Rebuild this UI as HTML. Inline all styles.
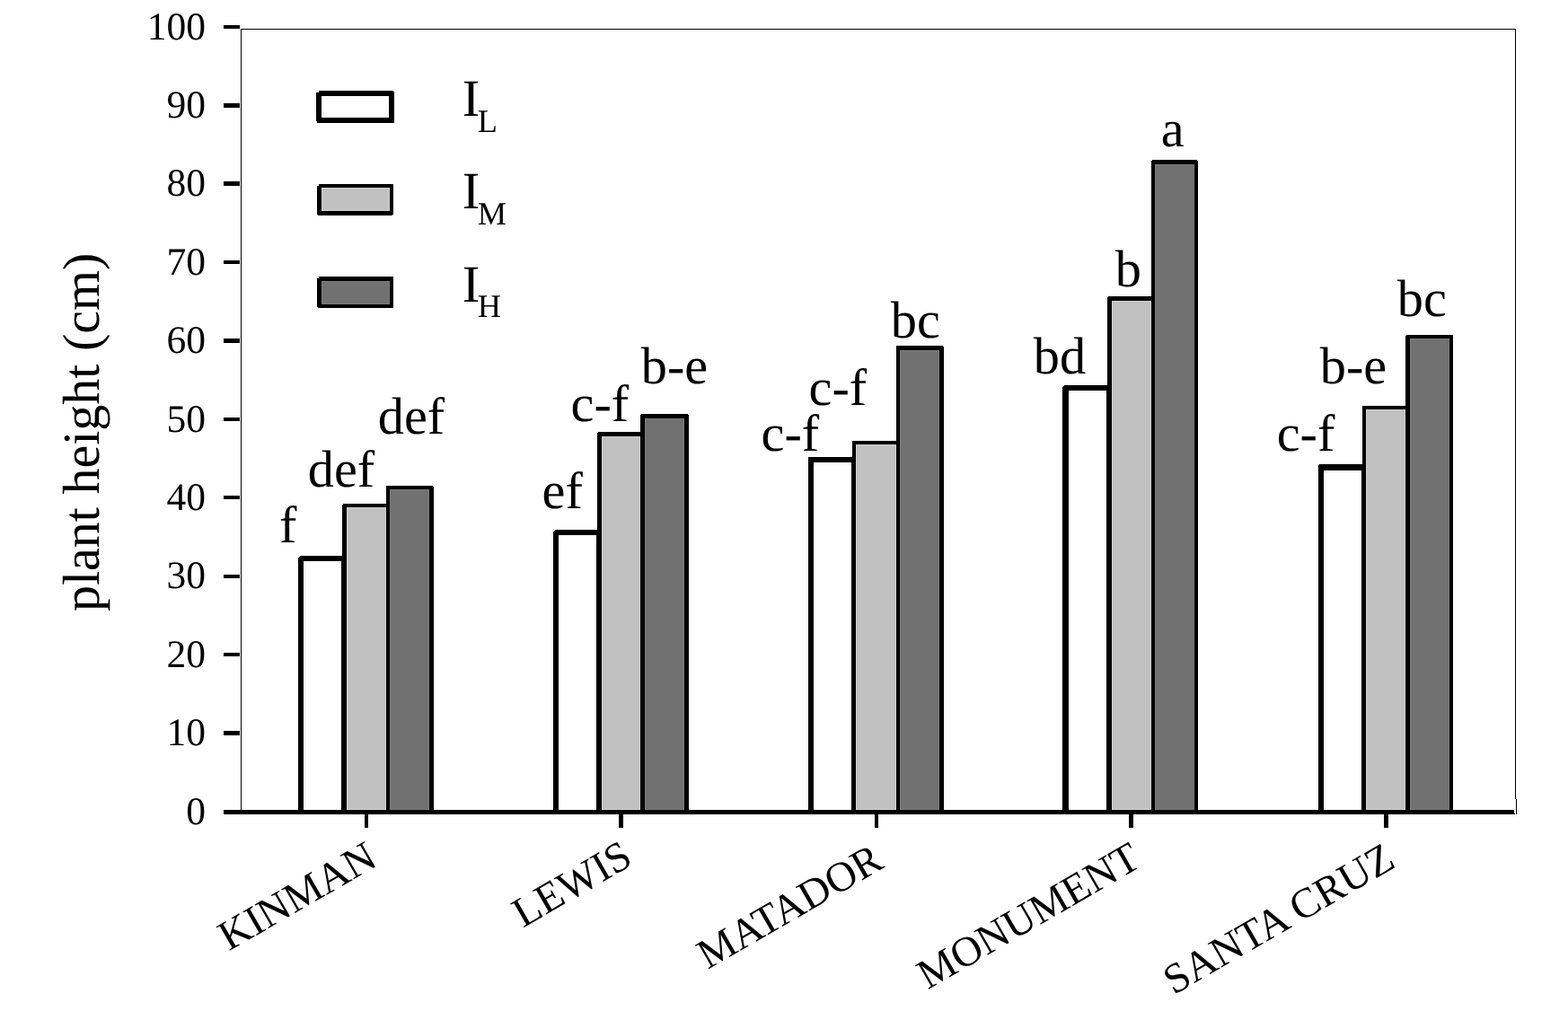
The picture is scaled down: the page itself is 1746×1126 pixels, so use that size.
<!DOCTYPE html>
<html lang="en">
<head>
<meta charset="utf-8">
<title>Plant height by cultivar and irrigation level</title>
<style>
html,body{margin:0;padding:0;background:#fff;}
body{width:1746px;height:1126px;overflow:hidden;}
svg{display:block;}
text{white-space:pre;text-rendering:geometricPrecision;}
</style>
</head>
<body>
<svg width="1746" height="1126" viewBox="0 0 1746 1126" role="img" aria-label="Bar chart of plant height (cm) for five cultivars under three irrigation levels">
<rect x="0" y="0" width="1746" height="1126" fill="#fff"/>
<g shape-rendering="crispEdges">
<rect x="268" y="32" width="1420" height="1" fill="#000"/>
<rect x="268" y="32" width="1" height="870" fill="#000"/>
<rect x="1687" y="32" width="1" height="858" fill="#000"/>
<rect x="1688" y="890" width="1" height="17" fill="#000"/>
<rect x="332" y="619" width="54" height="283" fill="#000"/>
<rect x="338" y="625" width="42" height="277" fill="#fff"/>
<rect x="381" y="561" width="53" height="341" fill="#000"/>
<rect x="386" y="565" width="44" height="337" fill="#d0d0d0"/>
<rect x="387" y="566" width="42" height="335" fill="#c1c1c1"/>
<rect x="430" y="541" width="53" height="361" fill="#000"/>
<rect x="434" y="545" width="44" height="357" fill="#7b7b7b"/>
<rect x="435" y="546" width="42" height="355" fill="#717171"/>
<rect x="332" y="619" width="2" height="1" fill="#fff"/>
<rect x="332" y="620" width="1" height="1" fill="#fff"/>
<rect x="381" y="561" width="1" height="1" fill="#fff"/>
<rect x="482" y="541" width="1" height="1" fill="#fff"/>
<rect x="616" y="590" width="54" height="312" fill="#000"/>
<rect x="622" y="596" width="42" height="306" fill="#fff"/>
<rect x="665" y="481" width="53" height="421" fill="#000"/>
<rect x="670" y="486" width="43" height="416" fill="#d0d0d0"/>
<rect x="671" y="487" width="41" height="414" fill="#c1c1c1"/>
<rect x="713" y="461" width="54" height="441" fill="#000"/>
<rect x="718" y="466" width="44" height="436" fill="#7b7b7b"/>
<rect x="719" y="467" width="42" height="434" fill="#717171"/>
<rect x="616" y="590" width="2" height="1" fill="#fff"/>
<rect x="616" y="591" width="1" height="1" fill="#fff"/>
<rect x="665" y="481" width="1" height="1" fill="#fff"/>
<rect x="713" y="461" width="1" height="1" fill="#fff"/>
<rect x="766" y="461" width="1" height="1" fill="#fff"/>
<rect x="900" y="509" width="53" height="393" fill="#000"/>
<rect x="906" y="515" width="42" height="387" fill="#fff"/>
<rect x="949" y="491" width="53" height="411" fill="#000"/>
<rect x="953" y="495" width="45" height="407" fill="#d0d0d0"/>
<rect x="954" y="496" width="43" height="405" fill="#c1c1c1"/>
<rect x="998" y="385" width="53" height="517" fill="#000"/>
<rect x="1002" y="390" width="44" height="512" fill="#7b7b7b"/>
<rect x="1003" y="391" width="42" height="510" fill="#717171"/>
<rect x="1050" y="385" width="1" height="1" fill="#fff"/>
<rect x="1183" y="429" width="55" height="473" fill="#000"/>
<rect x="1190" y="435" width="42" height="467" fill="#fff"/>
<rect x="1233" y="330" width="53" height="572" fill="#000"/>
<rect x="1238" y="335" width="44" height="567" fill="#d0d0d0"/>
<rect x="1239" y="336" width="42" height="565" fill="#c1c1c1"/>
<rect x="1282" y="178" width="52" height="724" fill="#000"/>
<rect x="1286" y="183" width="44" height="719" fill="#7b7b7b"/>
<rect x="1287" y="184" width="42" height="717" fill="#717171"/>
<rect x="1183" y="429" width="2" height="1" fill="#fff"/>
<rect x="1183" y="430" width="1" height="1" fill="#fff"/>
<rect x="1233" y="330" width="1" height="1" fill="#fff"/>
<rect x="1282" y="178" width="1" height="1" fill="#fff"/>
<rect x="1333" y="178" width="1" height="1" fill="#fff"/>
<rect x="1468" y="517" width="53" height="385" fill="#000"/>
<rect x="1474" y="524" width="42" height="378" fill="#fff"/>
<rect x="1517" y="452" width="53" height="450" fill="#000"/>
<rect x="1521" y="456" width="44" height="446" fill="#d0d0d0"/>
<rect x="1522" y="457" width="42" height="444" fill="#c1c1c1"/>
<rect x="1565" y="373" width="53" height="529" fill="#000"/>
<rect x="1570" y="377" width="44" height="525" fill="#7b7b7b"/>
<rect x="1571" y="378" width="42" height="523" fill="#717171"/>
<rect x="1468" y="517" width="1" height="1" fill="#fff"/>
<rect x="1565" y="373" width="1" height="1" fill="#fff"/>
<rect x="249" y="902" width="1437" height="5" fill="#000"/>
<rect x="1686" y="906" width="1" height="1" fill="#000"/>
<rect x="249" y="28" width="18" height="4" fill="#000"/>
<rect x="249" y="115" width="18" height="5" fill="#000"/>
<rect x="249" y="202" width="18" height="5" fill="#000"/>
<rect x="249" y="290" width="18" height="4" fill="#000"/>
<rect x="249" y="377" width="18" height="5" fill="#000"/>
<rect x="249" y="465" width="18" height="4" fill="#000"/>
<rect x="249" y="552" width="18" height="4" fill="#000"/>
<rect x="249" y="640" width="18" height="4" fill="#000"/>
<rect x="249" y="727" width="18" height="4" fill="#000"/>
<rect x="249" y="814" width="18" height="5" fill="#000"/>
<rect x="406" y="907" width="4" height="15" fill="#000"/>
<rect x="689" y="907" width="5" height="15" fill="#000"/>
<rect x="974" y="907" width="4" height="15" fill="#000"/>
<rect x="1257" y="907" width="5" height="15" fill="#000"/>
<rect x="1541" y="907" width="5" height="15" fill="#000"/>
<rect x="352" y="101" width="87" height="36" fill="#000"/>
<rect x="358" y="107" width="75" height="24" fill="#fff"/>
<rect x="352" y="101" width="3" height="2" fill="#fff"/>
<rect x="352" y="135" width="1" height="2" fill="#fff"/>
<rect x="438" y="101" width="1" height="1" fill="#fff"/>
<rect x="353" y="205" width="85" height="35" fill="#000"/>
<rect x="358" y="209" width="76" height="26" fill="#d0d0d0"/>
<rect x="359" y="210" width="74" height="24" fill="#c1c1c1"/>
<rect x="353" y="205" width="2" height="2" fill="#fff"/>
<rect x="353" y="239" width="1" height="1" fill="#fff"/>
<rect x="437" y="239" width="1" height="1" fill="#fff"/>
<rect x="353" y="308" width="85" height="35" fill="#000"/>
<rect x="358" y="313" width="76" height="26" fill="#7b7b7b"/>
<rect x="359" y="314" width="74" height="24" fill="#717171"/>
<rect x="353" y="308" width="2" height="2" fill="#fff"/>
<rect x="353" y="342" width="1" height="1" fill="#fff"/>
</g>
<g font-family='"Liberation Serif", "Times New Roman", Times, serif' fill="#000">
<text x="229" y="43.6" font-size="43.5" text-anchor="end">100</text>
<text x="229" y="131" font-size="43.5" text-anchor="end">90</text>
<text x="229" y="218.4" font-size="43.5" text-anchor="end">80</text>
<text x="229" y="305.8" font-size="43.5" text-anchor="end">70</text>
<text x="229" y="393.2" font-size="43.5" text-anchor="end">60</text>
<text x="229" y="480.6" font-size="43.5" text-anchor="end">50</text>
<text x="229" y="568" font-size="43.5" text-anchor="end">40</text>
<text x="229" y="655.4" font-size="43.5" text-anchor="end">30</text>
<text x="229" y="742.8" font-size="43.5" text-anchor="end">20</text>
<text x="229" y="830.2" font-size="43.5" text-anchor="end">10</text>
<text x="229" y="917.6" font-size="43.5" text-anchor="end">0</text>
<text transform="translate(110,681) rotate(-90)" font-size="58">plant height (cm)</text>
<text x="514.8" y="129.1" font-size="58.3">I</text>
<text x="531.85" y="146.7" font-size="36.3">L</text>
<text x="514.8" y="232.05" font-size="58.3">I</text>
<text x="531.85" y="249.5" font-size="36.3">M</text>
<text x="514.8" y="336" font-size="58.3">I</text>
<text x="531.85" y="352.6" font-size="36.3">H</text>
<text x="311.06" y="604" font-size="58.3">f</text>
<text x="342.79" y="542.3" font-size="58.3">def</text>
<text x="420.79" y="483.2" font-size="58.3">def</text>
<text x="603.52" y="565.9" font-size="58.3">ef</text>
<text x="635.58" y="469" font-size="58.3">c-f</text>
<text x="713.8" y="427.3" font-size="58.3">b-e</text>
<text x="847.58" y="501.9" font-size="58.3">c-f</text>
<text x="900.58" y="451" font-size="58.3">c-f</text>
<text x="991.8" y="376.4" font-size="58.3">bc</text>
<text x="1150.85" y="416.4" font-size="58.3">bd</text>
<text x="1241.8" y="319.4" font-size="58.3">b</text>
<text x="1292.75" y="163.4" font-size="58.3">a</text>
<text x="1421.63" y="501.9" font-size="58.3">c-f</text>
<text x="1469.8" y="427.3" font-size="58.3">b-e</text>
<text x="1555.8" y="351.5" font-size="58.3">bc</text>
<text transform="translate(422.2,963) rotate(-30)" font-size="47" text-anchor="end">KINMAN</text>
<text transform="translate(706.5,961.9) rotate(-30)" font-size="47" text-anchor="end">LEWIS</text>
<text transform="translate(986,965.6) rotate(-30)" font-size="47" text-anchor="end">MATADOR</text>
<text transform="translate(1272.7,964) rotate(-30)" font-size="47" text-anchor="end">MONUMENT</text>
<text transform="translate(1555.8,964.7) rotate(-30)" font-size="47" text-anchor="end">SANTA CRUZ</text>
</g>
</svg>
</body>
</html>
